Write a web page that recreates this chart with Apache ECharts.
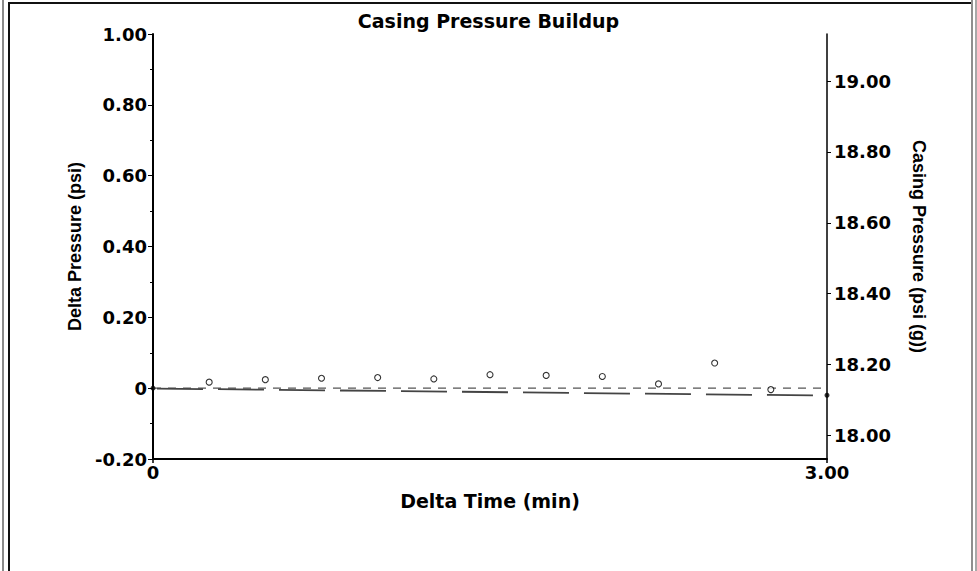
<!DOCTYPE html>
<html>
<head>
<meta charset="utf-8">
<script src="https://cdn.jsdelivr.net/npm/echarts@6/dist/echarts.min.js"></script>
<style>
  html, body { margin: 0; padding: 0; background: #fff; }
  #wrap { position: relative; width: 977px; height: 571px; overflow: hidden; background: #fff; }
  #chart { position: absolute; left: 0; top: 0; width: 977px; height: 571px; }
  .fr { position: absolute; }
</style>
</head>
<body>
<div id="wrap">
  <div id="chart"></div>
  <div class="fr" style="left:2px;top:0;width:2px;height:571px;background:#8a8a8a;"></div>
  <div class="fr" style="left:8px;top:2px;width:2px;height:569px;background:#111;"></div>
  <div class="fr" style="left:8px;top:2px;width:964px;height:2px;background:#111;"></div>
  <div class="fr" style="left:971px;top:0;width:2px;height:571px;background:#8f8f8f;"></div>
  <div class="fr" style="left:975px;top:0;width:2px;height:571px;background:#a8a8a8;"></div>
</div>
<script>
// ---- data ----
const chartTitle = 'Casing Pressure Buildup';
const xAxisName = 'Delta Time (min)';
const leftAxisName = 'Delta Pressure (psi)';
const rightAxisName = 'Casing Pressure (psi (g))';

const timeMin = [0.25, 0.5, 0.75, 1.0, 1.25, 1.5, 1.75, 2.0, 2.25, 2.5, 2.75];
const deltaP  = [0.017, 0.024, 0.028, 0.030, 0.026, 0.038, 0.036, 0.033, 0.012, 0.071, -0.004];

const endTime  = [0, 3.0];
const endDelta = [0, -0.020];

const zeroLineTime  = [0, 3.0];
const zeroLineDelta = [0, 0];

const trendTime  = [0, 3.0];
const trendDelta = [-0.001, -0.021];

const xTickValues = [0, 3.0];
const leftMin = -0.2, leftMax = 1.0, leftInterval = 0.2;
const basePressure = 18.133;   // casing pressure at delta = 0
const rightTickValues = [18.0, 18.2, 18.4, 18.6, 18.8, 19.0];

// ---- chart ----
const F = 'DejaVu Sans';
const pair = (xs, ys) => xs.map((x, i) => [x, ys[i]]);

const chart = echarts.init(document.getElementById('chart'), null, { renderer: 'svg' });
chart.setOption({
  animation: false,
  backgroundColor: '#fff',
  title: {
    text: chartTitle,
    left: 'center',
    top: 6,
    textStyle: { fontFamily: F, fontWeight: 'bold', fontSize: 19, color: '#000' }
  },
  grid: { left: 153, right: 150, top: 34, bottom: 112, containLabel: false },
  xAxis: {
    type: 'value',
    min: 0, max: 3,
    name: xAxisName,
    nameLocation: 'middle',
    nameGap: 32,
    nameTextStyle: { fontFamily: F, fontWeight: 'bold', fontSize: 19, color: '#000' },
    axisLine: { show: true, onZero: false, lineStyle: { color: '#000', width: 2 } },
    axisTick: { show: true, length: 4, lineStyle: { color: '#000', width: 1.5 }, customValues: xTickValues },
    axisLabel: {
      customValues: xTickValues,
      margin: 4,
      fontFamily: F, fontWeight: 'bold', fontSize: 18, color: '#000',
      formatter: v => (Math.abs(v) < 1e-9 ? '0' : v.toFixed(2))
    },
    splitLine: { show: false }
  },
  yAxis: [
    {
      type: 'value',
      position: 'left',
      min: leftMin, max: leftMax, interval: leftInterval,
      name: leftAxisName,
      nameLocation: 'middle',
      nameGap: 67,
      nameTextStyle: { fontFamily: 'Liberation Sans', fontWeight: 'bold', fontSize: 18, color: '#000' },
      axisLine: { show: true, onZero: false, lineStyle: { color: '#000', width: 2 } },
      axisTick: { show: true, length: 5, lineStyle: { color: '#000', width: 1 } },
      minorTick: { show: true, splitNumber: 2, length: 3, lineStyle: { color: '#000', width: 1 } },
      axisLabel: {
        margin: 6,
        fontFamily: F, fontWeight: 'bold', fontSize: 18, color: '#000',
        formatter: v => (Math.abs(v) < 1e-9 ? '0' : v.toFixed(2))
      },
      splitLine: { show: false }
    },
    {
      type: 'value',
      position: 'right',
      min: leftMin + basePressure, max: leftMax + basePressure,
      name: rightAxisName,
      nameLocation: 'middle',
      nameRotate: -90,
      nameGap: 83,
      nameTextStyle: { fontFamily: 'Liberation Sans', fontWeight: 'bold', fontSize: 18, color: '#000' },
      axisLine: { show: true, onZero: false, lineStyle: { color: '#000', width: 1.5 } },
      axisTick: { show: true, length: 4, lineStyle: { color: '#000', width: 1 }, customValues: rightTickValues },
      axisLabel: {
        customValues: rightTickValues,
        margin: 7,
        fontFamily: F, fontWeight: 'bold', fontSize: 18, color: '#000',
        formatter: v => v.toFixed(2)
      },
      splitLine: { show: false }
    }
  ],
  series: [
    {
      name: 'zero',
      type: 'line',
      data: pair(zeroLineTime, zeroLineDelta),
      symbol: 'none',
      lineStyle: { color: '#555', width: 1.2, type: [8, 7] },
      z: 2
    },
    {
      name: 'trend',
      type: 'line',
      data: pair(trendTime, trendDelta),
      symbol: 'none',
      lineStyle: { color: '#444', width: 1.8, type: [46, 15], dashOffset: -4 },
      z: 3
    },
    {
      name: 'delta',
      type: 'scatter',
      data: pair(timeMin, deltaP),
      symbol: 'circle',
      symbolSize: 6,
      itemStyle: { color: '#fff', borderColor: '#000', borderWidth: 1.1 },
      z: 4
    },
    {
      name: 'ends',
      type: 'scatter',
      data: pair(endTime, endDelta),
      symbol: 'circle',
      symbolSize: 5,
      itemStyle: { color: '#000' },
      z: 5
    }
  ]
});
</script>
</body>
</html>
